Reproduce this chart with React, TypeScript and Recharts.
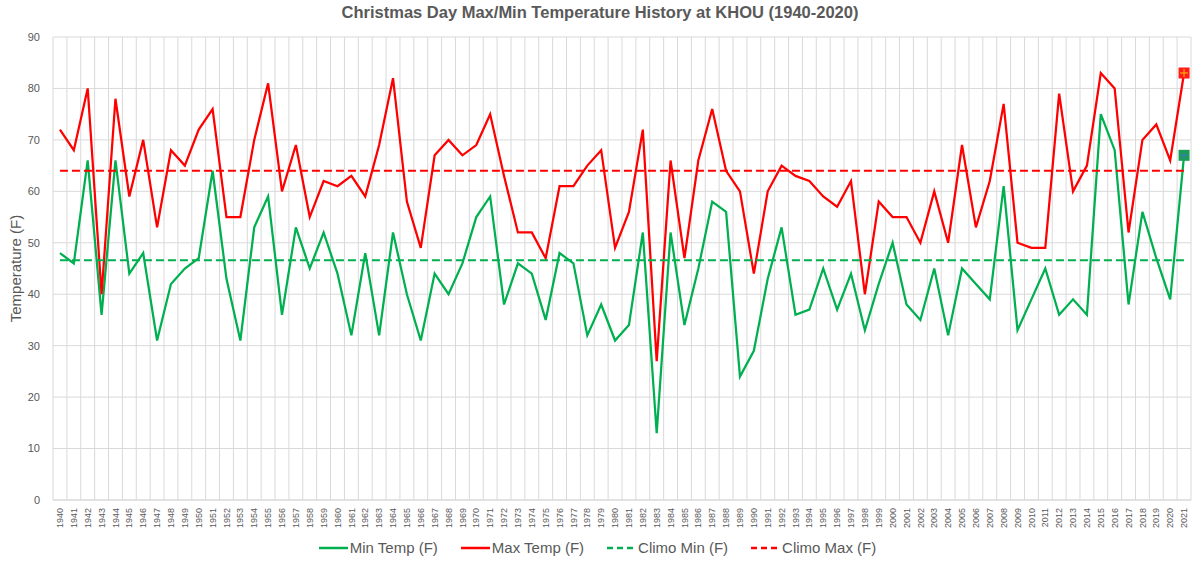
import {
  LineChart,
  Line,
  XAxis,
  YAxis,
  CartesianGrid,
  ReferenceLine,
  Legend,
} from 'recharts';

const years = Array.from({ length: 82 }, (_, i) => 1940 + i);

const minTemp = [
  48, 46, 66, 36, 66, 44, 48, 31, 42, 45,
  47, 64, 43, 31, 53, 59, 36, 53, 45, 52,
  44, 32, 48, 32, 52, 40, 31, 44, 40, 46,
  55, 59, 38, 46, 44, 35, 48, 46, 32, 38,
  31, 34, 52, 13, 52, 34, 45, 58, 56, 24,
  29, 43, 53, 36, 37, 45, 37, 44, 33, 42,
  50, 38, 35, 45, 32, 45, 42, 39, 61, 33,
  39, 45, 36, 39, 36, 75, 68, 38, 56, 47,
  39, 67,
];

const maxTemp = [
  72, 68, 80, 40, 78, 59, 70, 53, 68, 65,
  72, 76, 55, 55, 70, 81, 60, 69, 55, 62,
  61, 63, 59, 69, 82, 58, 49, 67, 70, 67,
  69, 75, 63, 52, 52, 47, 61, 61, 65, 68,
  49, 56, 72, 27, 66, 47, 66, 76, 64, 60,
  44, 60, 65, 63, 62, 59, 57, 62, 40, 58,
  55, 55, 50, 60, 50, 69, 53, 62, 77, 50,
  49, 49, 79, 60, 65, 83, 80, 52, 70, 73,
  66, 83,
];

const climoMin = 46.6;
const climoMax = 64.0;

const yTicks = [0, 10, 20, 30, 40, 50, 60, 70, 80, 90];

const X_DOMAIN = [1939.5, 2021.5];

// category boundaries, used only for the vertical grid lines
const gridTicks = Array.from({ length: 83 }, (_, i) => 1939.5 + i);

const chartData = years.map((year, i) => ({ year, min: minTemp[i], max: maxTemp[i] }));

const TEXT = '#595959';
const GRID = '#d9d9d9';
const GREEN = '#00b050';
const RED = '#ff0000';

const legendItems = [
  { name: 'Min Temp (F)', color: GREEN, dashed: false },
  { name: 'Max Temp (F)', color: RED, dashed: false },
  { name: 'Climo Min (F)', color: GREEN, dashed: true },
  { name: 'Climo Max (F)', color: RED, dashed: true },
];

function YearTick({ x, y, payload }: any) {
  return (
    <text
      x={x}
      y={y}
      transform={`rotate(-90, ${x}, ${y})`}
      textAnchor="end"
      dy="0.35em"
      fontSize={9}
      fill={TEXT}
    >
      {payload.value}
    </text>
  );
}

function YLabel({ viewBox }: any) {
  const cy = viewBox.y + viewBox.height / 2;
  return (
    <text
      x={15}
      y={cy}
      transform={`rotate(-90, 15, ${cy})`}
      textAnchor="middle"
      dominantBaseline="central"
      fontSize={15}
      fill={TEXT}
    >
      Temperature (F)
    </text>
  );
}

// vertical grid lines sit between the years, like Excel's category axis
function verticalLines({ xAxis, offset }: any) {
  if (xAxis && typeof xAxis.scale === 'function') {
    return gridTicks.map((t) => xAxis.scale(t));
  }
  const span = X_DOMAIN[1] - X_DOMAIN[0];
  return gridTicks.map((t) => offset.left + ((t - X_DOMAIN[0]) / span) * offset.width);
}

function lastMarker(fill: string, cross: string) {
  return (props: any) => {
    if (props.index !== years.length - 1) return <g key={`dot-${props.index}`} />;
    const { cx, cy } = props;
    return (
      <g key={`dot-${props.index}`}>
        <rect x={cx - 5.5} y={cy - 5.5} width={11} height={11} fill={fill} />
        <path d={`M${cx - 4},${cy} H${cx + 4} M${cx},${cy - 4} V${cy + 4}`} stroke={cross} strokeWidth={1} />
      </g>
    );
  };
}

function renderLegend() {
  return (
    <div style={{ display: 'flex', justifyContent: 'center', gap: 23, fontSize: 15, color: TEXT, lineHeight: '24px', paddingRight: 5 }}>
      {legendItems.map((item) => (
        <div key={item.name} style={{ display: 'flex', alignItems: 'center' }}>
          <svg width={29} height={6} style={{ marginRight: 2 }}>
            <line
              x1={0}
              y1={3}
              x2={29}
              y2={3}
              stroke={item.color}
              strokeWidth={2.5}
              strokeDasharray={item.dashed ? '6 4' : undefined}
            />
          </svg>
          <span>{item.name}</span>
        </div>
      ))}
    </div>
  );
}

export default function App() {
  return (
    <div style={{ position: 'absolute', left: 0, top: 0, width: 1200, height: 563, background: '#fff', fontFamily: '"Liberation Sans", Arial, sans-serif' }}>
      <div style={{ position: 'absolute', top: 3, left: 0, width: 1200, textAlign: 'center', fontSize: 16.5, fontWeight: 'bold', color: TEXT }}>
        Christmas Day Max/Min Temperature History at KHOU (1940-2020)
      </div>
      <LineChart width={1200} height={563} data={chartData} margin={{ top: 37, right: 9, bottom: 9, left: 0 }}>
        <CartesianGrid stroke={GRID} strokeWidth={1} verticalCoordinatesGenerator={verticalLines} />
        <XAxis
          dataKey="year"
          type="number"
          domain={X_DOMAIN}
          ticks={years}
          interval={0}
          height={30}
          tick={<YearTick />}
          tickLine={false}
          axisLine={{ stroke: GRID }}
        />
        <YAxis
          domain={[0, 90]}
          ticks={yTicks}
          width={53}
          tickLine={false}
          axisLine={false}
          tickMargin={7}
          tick={{ fontSize: 11, fill: TEXT }}
          label={<YLabel />}
        />
        <Legend verticalAlign="bottom" height={24} content={renderLegend} wrapperStyle={{ bottom: 3, left: 0, width: 1200 }} />
        <Line
          type="linear"
          dataKey="min"
          stroke={GREEN}
          strokeWidth={2.25}
          dot={lastMarker('#1a9e55', '#4472c4')}
          activeDot={false}
          isAnimationActive={false}
        />
        <Line
          type="linear"
          dataKey="max"
          stroke={RED}
          strokeWidth={2.25}
          dot={lastMarker('#ff1a1a', '#ffc000')}
          activeDot={false}
          isAnimationActive={false}
        />
        <ReferenceLine
          segment={[{ x: 1940, y: climoMin }, { x: 2021, y: climoMin }]}
          stroke={GREEN}
          strokeWidth={2}
          strokeDasharray="8 4"
        />
        <ReferenceLine
          segment={[{ x: 1940, y: climoMax }, { x: 2021, y: climoMax }]}
          stroke={RED}
          strokeWidth={2}
          strokeDasharray="8 4"
        />
      </LineChart>
    </div>
  );
}
